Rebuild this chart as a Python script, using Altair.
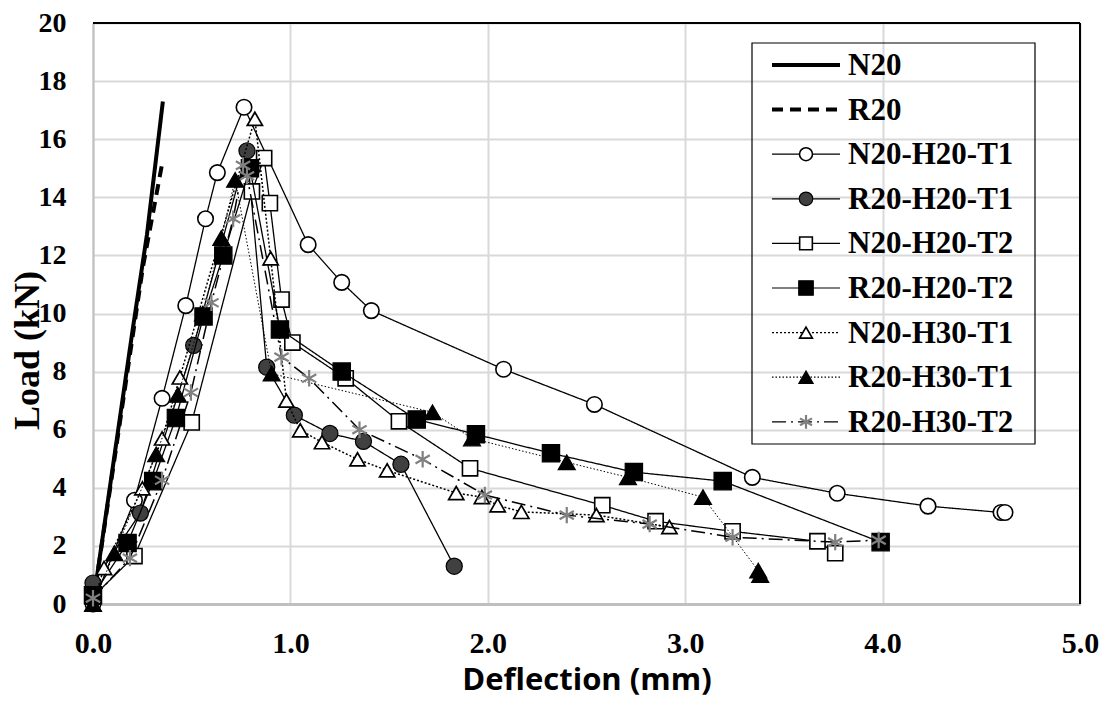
import altair as alt
import pandas as pd

series_names = ["N20", "R20", "N20-H20-T1", "R20-H20-T1", "N20-H20-T2",
                "R20-H20-T2", "N20-H30-T1", "R20-H30-T1", "R20-H30-T2"]

n20_x = [0, 0.2, 0.273, 0.354]
n20_y = [0, 9.4, 12.7, 17.3]

r20_x = [0, 0.253, 0.35]
r20_y = [0, 11.6, 15.15]

n20h20t1_x = [0, 0.21, 0.35, 0.47, 0.57, 0.63, 0.765, 1.09, 1.26, 1.41, 2.08, 2.54, 3.34, 3.77, 4.23, 4.60, 4.62]
n20h20t1_y = [0, 3.57, 7.08, 10.27, 13.26, 14.85, 17.1, 12.37, 11.07, 10.1, 8.08, 6.87, 4.36, 3.81, 3.37, 3.15, 3.15]

r20h20t1_x = [0, 0.24, 0.51, 0.78, 0.88, 1.02, 1.2, 1.37, 1.56, 1.83]
r20h20t1_y = [0.72, 3.13, 8.9, 15.6, 8.15, 6.5, 5.87, 5.6, 4.81, 1.3]

n20h20t2_x = [0, 0.21, 0.50, 0.805, 0.867, 0.896, 0.955, 1.01, 1.28, 1.55, 1.91, 2.58, 2.85, 3.24, 3.67, 3.76]
n20h20t2_y = [0.25, 1.65, 6.25, 14.2, 15.35, 13.8, 10.48, 9.0, 7.77, 6.29, 4.67, 3.4, 2.85, 2.5, 2.16, 1.75]

r20h20t2_x = [0, 0.175, 0.305, 0.42, 0.56, 0.66, 0.795, 0.947, 1.26, 1.64, 1.94, 2.32, 2.74, 3.19, 3.99]
r20h20t2_y = [0.3, 2.1, 4.23, 6.4, 9.9, 12.0, 15.0, 9.45, 8.0, 6.35, 5.84, 5.19, 4.54, 4.23, 2.13]

n20h30t1_x = [0, 0.056, 0.25, 0.35, 0.44, 0.82, 0.90, 0.98, 1.05, 1.16, 1.34, 1.49, 1.84, 1.97, 2.05, 2.17, 2.55, 2.92]
n20h30t1_y = [0, 1.24, 3.98, 5.7, 7.8, 16.7, 11.9, 7.0, 5.98, 5.57, 4.98, 4.6, 3.82, 3.68, 3.4, 3.17, 3.06, 2.65]

r20h30t1_x = [0, 0.108, 0.32, 0.43, 0.557, 0.65, 0.72, 0.905, 1.72, 1.92, 2.4, 2.71, 3.09, 3.37, 3.38]
r20h30t1_y = [0, 1.75, 5.15, 7.2, 10.0, 12.6, 14.6, 7.93, 6.6, 5.7, 4.88, 4.36, 3.68, 1.15, 1.0]

r20h30t2_x = [0, 0.187, 0.35, 0.496, 0.60, 0.71, 0.76, 0.78, 0.955, 1.095, 1.35, 1.67, 1.985, 2.40, 2.82, 3.24, 3.76, 3.98]
r20h30t2_y = [0.2, 1.58, 4.26, 7.28, 10.37, 13.26, 15.1, 14.74, 8.5, 7.77, 6.0, 4.98, 3.75, 3.06, 2.75, 2.3, 2.13, 2.2]

x_ticks = [0, 1, 2, 3, 4, 5]
y_ticks = [0, 2, 4, 6, 8, 10, 12, 14, 16, 18, 20]

series_data = {
    "N20": (n20_x, n20_y),
    "R20": (r20_x, r20_y),
    "N20-H20-T1": (n20h20t1_x, n20h20t1_y),
    "R20-H20-T1": (r20h20t1_x, r20h20t1_y),
    "N20-H20-T2": (n20h20t2_x, n20h20t2_y),
    "R20-H20-T2": (r20h20t2_x, r20h20t2_y),
    "N20-H30-T1": (n20h30t1_x, n20h30t1_y),
    "R20-H30-T1": (r20h30t1_x, r20h30t1_y),
    "R20-H30-T2": (r20h30t2_x, r20h30t2_y),
}

ASTER = "M0,-1V1M-0.87,-0.5L0.87,0.5M-0.87,0.5L0.87,-0.5"

styles = {
    "N20": dict(lw=4, dash=[1, 0], shape=None),
    "R20": dict(lw=4, dash=[11, 7], shape=None),
    "N20-H20-T1": dict(lw=1.3, dash=[1, 0], shape="circle", fill="white", stroke="black", size=240, sw=1.6),
    "R20-H20-T1": dict(lw=1.3, dash=[1, 0], shape="circle", fill="#404040", stroke="black", size=260, sw=1.2),
    "N20-H20-T2": dict(lw=1.3, dash=[1, 0], shape="square", fill="white", stroke="black", size=230, sw=1.6),
    "R20-H20-T2": dict(lw=1.3, dash=[1, 0], shape="square", fill="black", stroke="black", size=300, sw=1.2),
    "N20-H30-T1": dict(lw=1.5, dash=[2, 2], shape="triangle-up", fill="white", stroke="black", size=230, sw=1.7),
    "R20-H30-T1": dict(lw=1.0, dash=[1.5, 2], shape="triangle-up", fill="black", stroke="black", size=290, sw=1.2),
    "R20-H30-T2": dict(lw=1.5, dash=[14, 5, 2, 5], shape=ASTER, fill=None, stroke="#808080", size=270, sw=2.2),
}

W, H = 987, 581

xscale = alt.Scale(domain=[0, 5], nice=False, zero=False)
yscale = alt.Scale(domain=[0, 20], nice=False, zero=False)

xaxis = alt.Axis(values=x_ticks, format=".1f", labelFont="Liberation Serif", labelFontWeight="bold",
                 labelFontSize=30, labelColor="black", labelPadding=24, labelFlush=False,
                 ticks=False, tickSize=0,
                 domainColor="#bfbfbf", domainWidth=3, gridColor="#d9d9d9", gridWidth=2,
                 title="Deflection (mm)", titleFont="Open Sans", titleFontSize=31, titleFontWeight="bold",
                 titleColor="black", titleY=76, titleBaseline="middle")
yaxis = alt.Axis(values=y_ticks, labelFont="Liberation Serif", labelFontWeight="bold",
                 labelFontSize=28, labelColor="black", labelPadding=27, labelFlush=False,
                 ticks=False, tickSize=0,
                 domainColor="#bfbfbf", domainWidth=2, gridColor="#d9d9d9", gridWidth=2,
                 title="Load (kN)", titleFont="Liberation Serif", titleFontSize=36, titleFontWeight="bold",
                 titleColor="black", titleX=-66, titleY=327, titleAngle=270, titleBaseline="middle",
                 titleAlign="center")

X = alt.X("x:Q", scale=xscale, axis=xaxis)
Y = alt.Y("y:Q", scale=yscale, axis=yaxis)

layers = []
for name in series_names:
    xs, ys = series_data[name]
    df = pd.DataFrame({"x": xs, "y": ys, "i": list(range(len(xs)))})
    st = styles[name]
    line = alt.Chart(df).mark_line(color="black", strokeWidth=st["lw"], strokeDash=st["dash"],
                                   strokeCap="butt").encode(x=X, y=Y, order="i:Q")
    layers.append(line)
    if st["shape"] is not None:
        kw = dict(shape=st["shape"], size=st["size"], stroke=st["stroke"], strokeWidth=st["sw"],
                  opacity=1, strokeOpacity=1)
        if st["fill"] is not None:
            kw.update(filled=True, fill=st["fill"], fillOpacity=1)
        else:
            kw.update(filled=False)
        pts = alt.Chart(df).mark_point(**kw).encode(x=X, y=Y)
        layers.append(pts)

# frame (top and right borders)
one = pd.DataFrame({"k": [0]})
layers.append(alt.Chart(one).mark_rule(color="black", strokeWidth=2).encode(
    x=alt.value(0), x2=alt.value(W), y=alt.value(0)))
layers.append(alt.Chart(one).mark_rule(color="black", strokeWidth=2).encode(
    x=alt.value(W), y=alt.value(0), y2=alt.value(H)))

# legend
leg_left, leg_top, leg_right, leg_bottom = 659, 20, 942, 421
layers.append(alt.Chart(one).mark_rect(fill=None, stroke="black", strokeWidth=1.2).encode(
    x=alt.value(leg_left), x2=alt.value(leg_right), y=alt.value(leg_top), y2=alt.value(leg_bottom)))
row0, step = 42, 44.6
for k, name in enumerate(series_names):
    st = styles[name]
    ry = row0 + k * step
    ldf = pd.DataFrame({"label": [name]})
    layers.append(alt.Chart(ldf).mark_rule(color="black", strokeWidth=st["lw"] if st["lw"] > 2 else 1.2,
                                           strokeDash=st["dash"], strokeCap="butt").encode(
        x=alt.value(679), x2=alt.value(747), y=alt.value(ry)))
    if st["shape"] is not None:
        kw = dict(shape=st["shape"], size=st["size"] * 0.7, stroke=st["stroke"], strokeWidth=st["sw"],
                  opacity=1, strokeOpacity=1)
        if st["fill"] is not None:
            kw.update(filled=True, fill=st["fill"], fillOpacity=1)
        else:
            kw.update(filled=False)
        layers.append(alt.Chart(ldf).mark_point(**kw).encode(x=alt.value(713), y=alt.value(ry)))
    layers.append(alt.Chart(ldf).mark_text(align="left", baseline="middle", font="Liberation Serif",
                                           fontWeight="bold", fontSize=31, color="black").encode(
        x=alt.value(755), y=alt.value(ry + 1), text="label:N"))

chart = alt.layer(*layers).properties(
    width=W, height=H,
    autosize=alt.AutoSizeParams(type="none"),
    padding={"left": 85, "top": 15, "right": 20, "bottom": 94},
).configure_view(stroke=None).configure(background="white")

chart.save("out.html", embed_options={"renderer": "svg", "actions": False})
